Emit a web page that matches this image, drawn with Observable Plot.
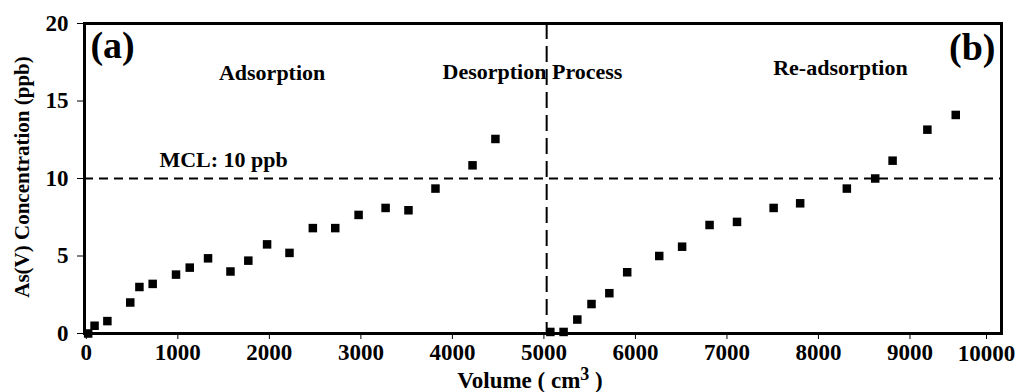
<!DOCTYPE html>
<html>
<head>
<meta charset="utf-8">
<script src="https://cdn.jsdelivr.net/npm/d3@7"></script>
<script src="https://cdn.jsdelivr.net/npm/@observablehq/plot@0.6"></script>
<style>
  html, body { margin: 0; padding: 0; background: white; }
</style>
</head>
<body>
<div id="chart"></div>
<script>
const volume = [20, 90, 230, 480, 580, 725, 980, 1130, 1330, 1575, 1770, 1975, 2220, 2475, 2720, 2975, 3270, 3520, 3815, 4220, 4470,
  5070, 5215, 5365, 5520, 5715, 5910, 6260, 6510, 6810, 7110, 7510, 7800, 8310, 8620, 8810, 9190, 9500];
const conc = [0.0, 0.5, 0.8, 2.0, 3.0, 3.2, 3.8, 4.25, 4.85, 4.0, 4.7, 5.75, 5.2, 6.8, 6.8, 7.65, 8.1, 7.95, 9.35, 10.85, 12.55,
  0.1, 0.1, 0.9, 1.9, 2.6, 3.95, 5.0, 5.6, 7.0, 7.2, 8.1, 8.4, 9.35, 10.0, 11.15, 13.15, 14.1];
const xTicks = [0, 1000, 2000, 3000, 4000, 5000, 6000, 7000, 8000, 9000];
const xLastTick = [10000];
const yTicks = [0, 5, 10, 15, 20];
const mcl = 10;
const processBoundary = 5030;
const labelTexts = ["Adsorption", "Desorption Process", "Re-adsorption", "MCL: 10 ppb"];
const labelX = [2030, 4875, 8240, 1500];
const labelY = [16.8, 16.9, 17.1, 11.2];
const panelA = [{t: "(a)", x: 45, y: 18.55}];
const panelB = [{t: "(b)", x: 9934, y: 18.45}];

const points = volume.map((v, i) => ({v, c: conc[i]}));
const labels = labelTexts.map((t, i) => ({t, x: labelX[i], y: labelY[i]}));

const font = "'Liberation Serif', 'Times New Roman', serif";

const chart = Plot.plot({
  width: 1016,
  height: 392,
  marginLeft: 84,
  marginTop: 23,
  marginRight: 15,
  marginBottom: 59,
  style: {fontFamily: font, fontWeight: "bold", fontSize: "23px", color: "black", background: "white"},
  x: {domain: [-20, 10000]},
  y: {domain: [0, 20]},
  marks: [
    Plot.ruleY([mcl], {stroke: "black", strokeWidth: 2, strokeDasharray: "9,6"}),
    Plot.ruleX([processBoundary], {stroke: "black", strokeWidth: 2, strokeDasharray: "16,7"}),
    Plot.frame({stroke: "black", strokeWidth: 3}),
    Plot.axisX({ticks: xTicks, tickFormat: d => String(d), tickSize: 6, tickPadding: 4, label: null, fontSize: 23}),
    Plot.axisX({ticks: xLastTick, tickFormat: d => String(d), tickSize: 6, tickPadding: 5, label: null, fontSize: 23, dx: -15}),
    Plot.axisY({ticks: yTicks, tickFormat: d => String(d), tickSize: 7, tickPadding: 9, label: null, fontSize: 23}),
    Plot.dot(points, {x: "v", y: "c", symbol: "square", r: 4.8, fill: "black", stroke: "none"}),
    Plot.text(labels, {x: "x", y: "y", text: "t", fontSize: 22, fontWeight: "bold", fill: "black"}),
    Plot.text(panelA, {x: "x", y: "y", text: "t", textAnchor: "start", fontSize: 38, fontWeight: "bold", fill: "black"}),
    Plot.text(panelB, {x: "x", y: "y", text: "t", textAnchor: "end", fontSize: 38, fontWeight: "bold", fill: "black"})
  ]
});

document.getElementById("chart").appendChild(chart);
const svg = d3.select(chart);

svg.append("text")
  .attr("transform", "translate(22,177) rotate(-90)")
  .attr("text-anchor", "middle")
  .attr("dominant-baseline", "central")
  .attr("font-family", font)
  .attr("font-weight", "bold")
  .attr("font-size", 21)
  .attr("fill", "black")
  .text("As(V) Concentration (ppb)");

const xl = svg.append("text")
  .attr("x", 530)
  .attr("y", 388)
  .attr("text-anchor", "middle")
  .attr("font-family", font)
  .attr("font-weight", "bold")
  .attr("font-size", 23)
  .attr("fill", "black");
xl.append("tspan").text("Volume ( cm");
xl.append("tspan").attr("dy", -8).attr("font-size", 18).text("3");
xl.append("tspan").attr("dy", 8).text(" )");
</script>
</body>
</html>
